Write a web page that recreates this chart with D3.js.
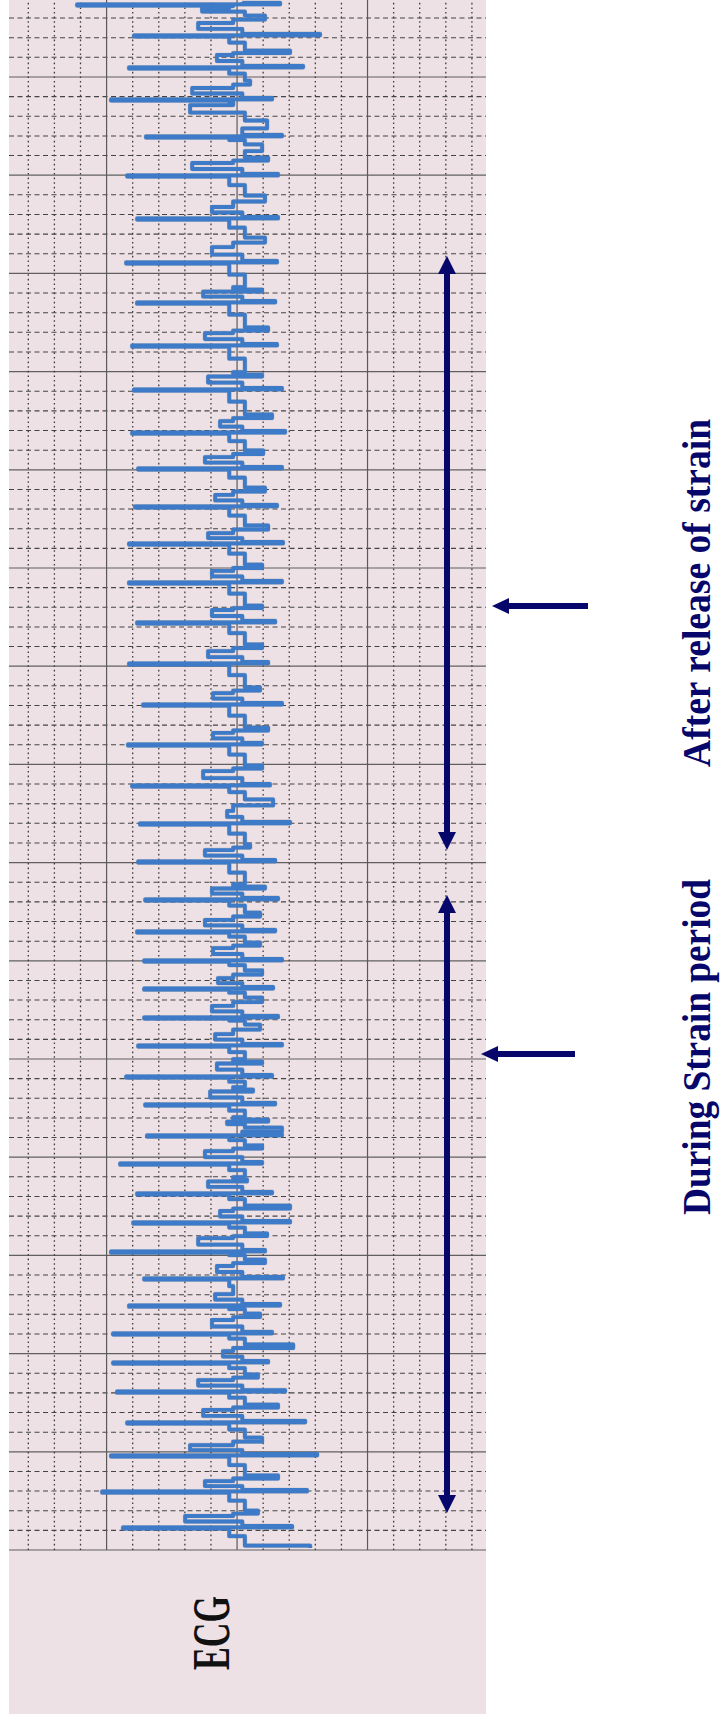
<!DOCTYPE html>
<html>
<head>
<meta charset="utf-8">
<script src="https://cdn.jsdelivr.net/npm/d3@7"></script>
<style>
  body { margin: 0; background: #fff; }
  svg { display: block; }
</style>
</head>
<body>
<div id="ecg-chart"></div>
<script>
// time in small divisions (mm) from the start of the strip, amplitude in mm
const beatTime = [78.67, 77.09, 75.46, 73.83, 71.95, 69.96, 67.77, 65.53, 63.49, 61.30, 59.06, 56.87, 55.04, 53.11, 51.22, 49.24, 47.20, 45.11, 43.02, 40.99, 38.90, 36.97, 35.03, 33.10, 31.47, 29.99, 28.56, 27.09, 25.66, 24.08, 22.66, 21.08, 19.65, 18.13, 16.65, 15.17, 13.80, 12.42, 11.00, 9.52, 8.04, 6.47, 4.79, 2.95, 1.12];
const rAmp = [6.13, 3.95, 4.14, 4.83, 3.49, 4.21, 3.83, 4.25, 3.83, 4.02, 3.95, 4.02, 3.79, 3.91, 4.14, 4.14, 3.83, 4.14, 3.60, 4.18, 4.02, 3.72, 3.79, 3.52, 3.83, 3.56, 3.56, 3.56, 3.79, 4.25, 3.52, 3.45, 4.48, 3.83, 3.98, 4.83, 3.56, 4.14, 4.75, 4.75, 4.60, 4.21, 4.83, 5.17, 4.37];
const sAmp = [-1.65, -3.18, -2.53, -1.34, -1.72, -1.57, -1.57, -1.53, -1.46, -1.53, -1.72, -1.84, -1.72, -1.53, -1.76, -1.72, -1.46, -1.19, -1.72, -0.96, -1.26, -2.03, -1.46, -1.57, -1.46, -1.72, -1.38, -1.57, -1.72, -1.34, -1.46, -1.72, -0.96, -1.34, -2.03, -1.07, -1.76, -1.65, -1.34, -1.19, -1.84, -2.61, -3.07, -2.68, -2.11];
const smallWaveTime = [78.41, 77.65, 76.02, 74.34, 73.47, 70.52, 68.28, 66.24, 64.00, 61.86, 59.67, 57.38, 55.55, 53.62, 51.68, 49.75, 47.76, 45.67, 43.53, 41.50, 39.56, 37.53, 35.54, 33.60, 31.98, 30.55, 29.02, 27.60, 26.17, 24.69, 23.27, 21.74, 20.21, 18.69, 17.16, 15.78, 14.36, 12.93, 11.61, 10.03, 8.55, 7.03, 5.24, 3.41, 1.63];
const smallWaveAmp = [1.34, 1.49, 0.77, 1.72, 1.80, 1.72, 0.96, 0.96, 1.30, 1.23, 1.11, 0.65, 1.23, 0.84, 1.11, 0.96, 0.96, 1.11, 0.92, 0.92, 1.30, 0.38, 1.23, 0.96, 1.23, 0.92, 0.73, 0.96, 0.84, 0.77, 1.03, 0.38, 1.23, 1.11, 0.65, 1.49, 0.77, 0.84, 0.96, 0.54, 1.49, 1.30, 1.80, 1.23, 1.99];
const tWaveTime = [78.00, 76.22, 74.69, 72.66, 71.44, 70.77, 68.84, 66.70, 64.15, 62.12, 59.83, 57.69, 55.86, 53.97, 52.04, 50.05, 47.96, 45.98, 43.79, 41.75, 39.82, 38.09, 35.79, 33.76, 32.33, 30.80, 29.38, 28.00, 26.63, 24.85, 23.42, 21.89, 21.38, 20.47, 18.84, 17.41, 15.99, 14.66, 11.91, 10.34, 8.81, 7.28, 5.60, 3.67, 1.88, 0.10];
const tWaveAmp = [-1.07, -2.03, -0.50, -1.15, -0.96, -1.19, -1.07, -1.07, -0.96, -1.19, -0.96, -1.34, -1.00, -1.07, -1.19, -0.96, -0.96, -0.96, -0.88, -1.19, -0.96, -1.38, -0.50, -1.07, -0.88, -0.88, -0.96, -0.96, -0.88, -0.96, -0.61, -1.19, -1.72, -0.96, -0.38, -2.03, -1.15, -1.07, -0.88, -2.15, -0.80, -1.57, -0.96, -1.57, -0.80, -2.80];

// annotation spans, same time units
const periodLabels = ["After release of strain", "During Strain period"];
const periodStart = [35.64, 1.88];
const periodEnd = [65.89, 33.35];
const pointerTime = [48.07, 25.25];
const labelTime = [48.73, 25.61];
const traceLabel = "ECG";

const width = 720, height = 1714;
const paperLeft = 9, paperWidth = 477, gridBottom = 1550;
const navy = "#07076b";

const svg = d3.select("#ecg-chart").append("svg")
  .attr("width", width).attr("height", height);
svg.append("rect").attr("width", width).attr("height", height).attr("fill", "#fff");

// the strip is drawn as a normal ECG (time to the right, voltage up) and turned a quarter left
const g = svg.append("g")
  .attr("transform", `translate(${paperLeft},${gridBottom}) rotate(-90)`);

const timeScale = d3.scaleLinear().domain([0, 78.92]).range([0, 1550]);
const ampScale = d3.scaleLinear().domain([-9.54, 8.74]).range([paperWidth, 0]);

g.append("rect")
  .attr("x", -(height - gridBottom)).attr("y", 0)
  .attr("width", height).attr("height", paperWidth)
  .attr("fill", "#eee1e5");

// grid
const timeLines = d3.range(0, 79);
g.selectAll(".tline").data(timeLines).enter().append("line")
  .attr("x1", d => timeScale(d)).attr("x2", d => timeScale(d))
  .attr("y1", 0).attr("y2", paperWidth)
  .attr("stroke", d => d % 5 === 0 ? "#606060" : "#454545")
  .attr("stroke-width", d => d % 5 === 0 ? 1.2 : 1.05)
  .attr("stroke-dasharray", d => d % 5 === 0 ? null : "5,3.5");

const ampLines = d3.range(-9, 9);
g.selectAll(".aline").data(ampLines).enter().append("line")
  .attr("y1", d => ampScale(d)).attr("y2", d => ampScale(d))
  .attr("x1", 0).attr("x2", timeScale(78.92))
  .attr("stroke", d => d % 5 === 0 ? "#5a5a5a" : "#3c3c3c")
  .attr("stroke-width", d => d % 5 === 0 ? 1.2 : 1.3)
  .attr("stroke-dasharray", d => d % 5 === 0 ? null : "1.6,3");

// trace
const pts = [];
beatTime.forEach((t, i) => {
  pts.push([t - 0.06, 0.3], [t, rAmp[i]], [t + 0.06, sAmp[i]], [t + 0.15, -0.2]);
});
smallWaveTime.forEach((t, i) => pts.push([t, smallWaveAmp[i]], [t + 0.2, 0.15]));
tWaveTime.forEach((t, i) => pts.push([t, tWaveAmp[i]], [t + 0.25, -0.3]));
pts.sort((a, b) => a[0] - b[0]);

g.append("clipPath").attr("id", "paper-clip")
  .append("rect").attr("x", 0).attr("y", 0)
  .attr("width", timeScale(78.92)).attr("height", paperWidth);

const traceLine = d3.line()
  .x(d => timeScale(d[0]))
  .y(d => ampScale(d[1]))
  .curve(d3.curveStep);

const traceG = g.append("g").attr("clip-path", "url(#paper-clip)");
traceG.append("path").datum(pts)
  .attr("fill", "none").attr("stroke", "#5a6c84").attr("stroke-width", 4.6)
  .attr("stroke-linejoin", "round").attr("opacity", 0.35)
  .attr("d", traceLine);
traceG.append("path").datum(pts)
  .attr("fill", "none").attr("stroke", "#3d7bc8").attr("stroke-width", 3.8)
  .attr("stroke-linejoin", "round")
  .attr("d", traceLine);

// period arrows
const arrowV = 438;
periodLabels.forEach((label, i) => {
  const u1 = timeScale(periodStart[i]), u2 = timeScale(periodEnd[i]);
  g.append("line")
    .attr("x1", u1 + 10).attr("x2", u2 - 10)
    .attr("y1", arrowV).attr("y2", arrowV)
    .attr("stroke", navy).attr("stroke-width", 6);
  g.append("path")
    .attr("d", `M${u1},${arrowV} L${u1 + 18},${arrowV - 9} L${u1 + 18},${arrowV + 9} Z`)
    .attr("fill", navy);
  g.append("path")
    .attr("d", `M${u2},${arrowV} L${u2 - 18},${arrowV - 9} L${u2 - 18},${arrowV + 9} Z`)
    .attr("fill", navy);

  const pu = timeScale(pointerTime[i]);
  const tipV = i === 0 ? 483 : 472;
  const tailV = i === 0 ? 579 : 566;
  g.append("line")
    .attr("x1", pu).attr("x2", pu)
    .attr("y1", tipV + 12).attr("y2", tailV)
    .attr("stroke", navy).attr("stroke-width", 6);
  g.append("path")
    .attr("d", `M${pu},${tipV} L${pu - 8},${tipV + 17} L${pu + 8},${tipV + 17} Z`)
    .attr("fill", navy);

  g.append("text")
    .attr("x", timeScale(labelTime[i])).attr("y", 701)
    .attr("text-anchor", "middle")
    .attr("font-family", "'Liberation Serif', 'Times New Roman', serif")
    .attr("font-weight", "bold")
    .attr("font-size", 41)
    .attr("fill", navy)
    .attr("textLength", i === 0 ? 348 : 336)
    .attr("lengthAdjust", "spacingAndGlyphs")
    .text(label);
});

g.append("text")
  .attr("x", -83).attr("y", 220)
  .attr("text-anchor", "middle")
  .attr("font-family", "'Liberation Serif', 'Times New Roman', serif")
  .attr("font-weight", "bold")
  .attr("font-size", 52)
  .attr("fill", "#111")
  .attr("textLength", 74)
  .attr("lengthAdjust", "spacingAndGlyphs")
  .text(traceLabel);
</script>
</body>
</html>
